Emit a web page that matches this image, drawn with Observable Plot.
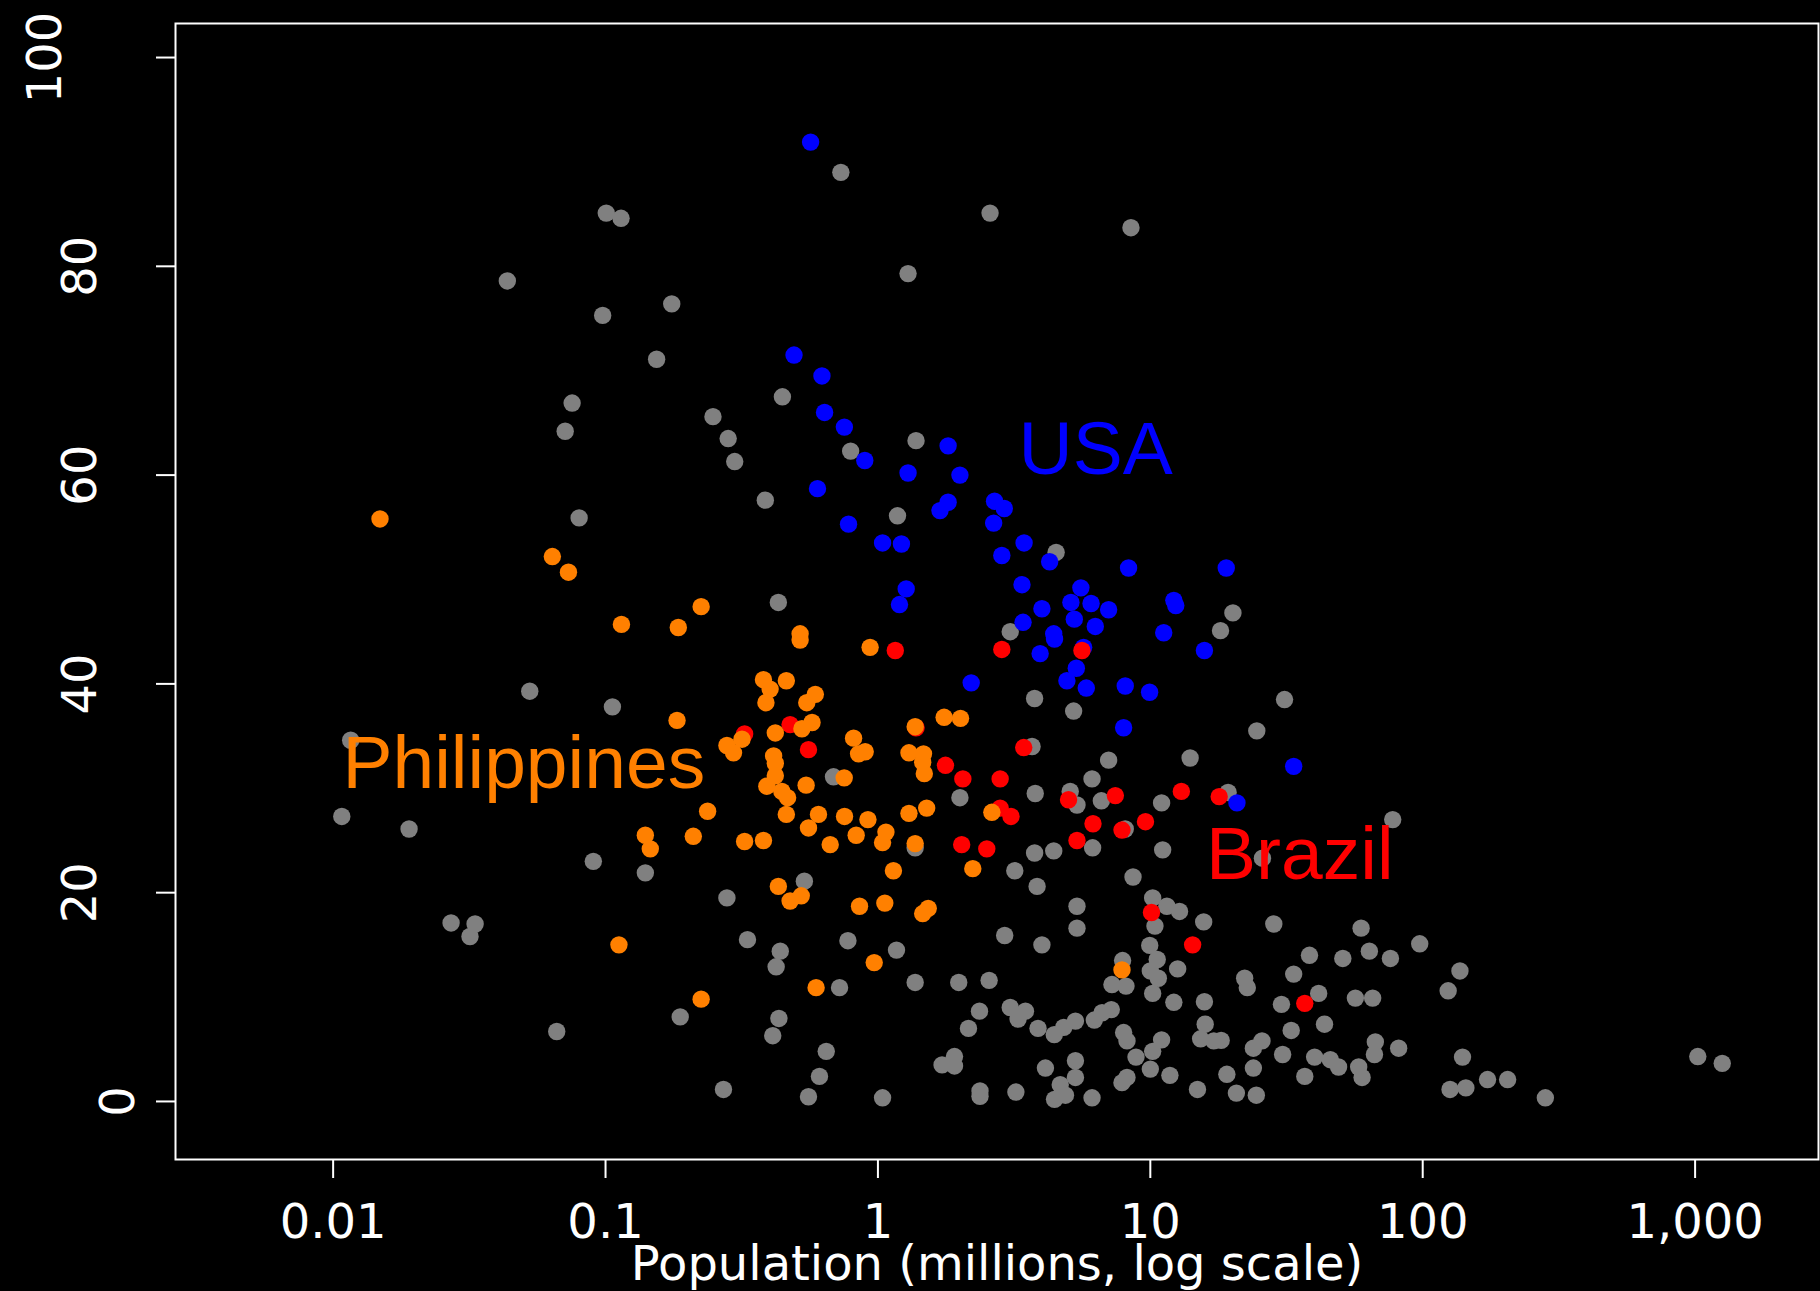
<!DOCTYPE html>
<html>
<head>
<meta charset="utf-8">
<script src="https://cdn.jsdelivr.net/npm/d3@7"></script>
<script src="https://cdn.jsdelivr.net/npm/@observablehq/plot@0.6"></script>
<style>
  html, body { margin: 0; padding: 0; background: #000; }
  #chart svg { display: block; }
</style>
</head>
<body>
<div id="chart"></div>
<script>
// Tick values
const xTicks = [0.01, 0.1, 1, 10, 100, 1000];
const yTicks = [0, 20, 40, 60, 80, 100];

// Groups and colours
const groups = ["other", "USA", "Brazil", "Philippines"];
const groupColors = ["#808080", "#0000ff", "#ff0000", "#ff8000"];

// [population (millions), value]
const otherPoints = [
  [0.731,89.0],[2.58,85.1],[8.49,83.7],[1.29,79.3],[0.1006,85.1],[0.114,84.6],[0.0436,78.6],[0.0976,75.3],
  [0.175,76.4],[0.154,71.1],[0.0754,66.9],[0.0711,64.2],[0.248,65.6],[0.282,63.5],[0.298,61.3],[0.446,67.5],
  [0.794,62.3],[1.38,63.3],[0.386,57.6],[0.080,55.9],[1.18,56.1],[0.431,47.8],[0.0527,39.3],[0.106,37.8],
  [0.0116,34.6],[0.01076,27.3],[0.019,26.1],[4.51,52.6],[20.1,46.8],[3.06,45.0],[18.1,45.1],[3.76,38.6],
  [5.23,37.4],[31.1,38.5],[24.6,35.5],[0.687,31.1],[3.68,34.0],[3.78,29.5],[2.0,29.1],[7.03,32.7],
  [14.0,32.9],[6.11,30.9],[5.08,29.7],[5.38,28.4],[6.61,28.8],[11.0,28.6],[19.3,29.6],[8.09,26.1],
  [77.6,27.0],[1.37,24.3],[0.140,21.9],[3.76,23.8],[4.42,24.0],[3.18,22.1],[3.84,20.6],[0.537,21.1],
  [0.279,19.5],[0.332,15.5],[0.438,14.4],[0.776,15.4],[1.17,14.5],[2.92,15.9],[4.00,15.0],[6.14,24.3],
  [11.1,24.1],[25.8,23.3],[8.64,21.5],[10.2,19.5],[11.5,18.7],[12.8,18.2],[10.4,16.8],[15.7,17.2],
  [28.4,17.0],[5.38,18.7],[5.38,16.6],[59.4,16.6],[97.5,15.1],[9.95,14.95],[38.4,14.0],[50.9,13.7],
  [63.7,14.4],[76.1,13.7],[7.91,13.5],[10.6,13.6],[10.0,12.5],[10.7,11.8],[12.6,12.7],[22.2,11.8],
  [22.7,10.9],[33.6,12.2],[41.5,10.35],[30.3,9.3],[56.6,9.9],[65.5,9.9],[124,10.6],[137,12.5],
  [1.98,11.4],[2.56,11.6],[7.23,11.2],[8.14,11.05],[10.2,10.35],[12.2,9.5],[15.8,9.55],[2.36,8.65],
  [2.15,7.0],[3.06,9.0],[3.48,8.65],[3.27,7.9],[3.87,7.0],[4.44,6.4],[4.81,7.1],[5.31,7.7],
  [6.23,7.8],[6.65,8.5],[7.19,8.8],[7.98,6.6],[8.21,5.8],[11.0,5.9],[10.2,4.8],[8.86,4.25],
  [15.9,7.4],[15.3,6.0],[17.1,5.8],[18.2,5.85],[32.9,6.8],[43.6,7.4],[25.7,5.8],[23.9,5.1],
  [30.6,4.5],[40.1,4.25],[45.8,4.0],[49.1,3.3],[58.2,3.3],[59.9,2.3],[67.0,5.7],[66.5,4.5],
  [81.6,5.1],[140,4.25],[126,1.15],[144,1.3],[1.91,4.3],[1.91,3.4],[4.12,3.2],[5.31,3.9],
  [5.31,2.3],[4.67,1.6],[4.88,0.6],[4.45,0.2],[6.11,0.35],[2.37,1.0],[2.37,0.5],[3.21,0.9],
  [8.21,2.3],[7.87,1.8],[10.0,3.1],[11.8,2.5],[14.9,1.15],[19.1,2.6],[20.7,0.8],[24.5,0.6],
  [23.9,3.2],[36.9,2.4],[173,2.1],[205,2.1],[282,0.35],[1023,4.3],[1258,3.65],
  [0.0902,23.0],[0.0271,17.1],[0.0332,17.0],[0.0318,15.8],[0.0662,6.7],[0.188,8.1],[0.271,1.15],
  [0.423,12.9],[0.723,10.9],[1.37,11.4],[0.433,7.95],[0.411,6.3],[0.646,4.8],[0.610,2.4],[0.556,0.45],
  [1.04,0.35],[1.72,3.5]
];

const usaPoints = [
  [0.566,91.9],[0.492,71.5],[0.623,69.5],[0.637,66.0],[0.753,64.6],[0.895,61.4],[1.81,62.8],[1.29,60.2],
  [2.0,60.0],[0.600,58.7],[1.81,57.4],[1.69,56.6],[0.780,55.3],[2.68,57.5],[2.91,56.8],[2.66,55.4],
  [1.04,53.5],[1.22,53.4],[3.44,53.5],[2.85,52.3],[4.27,51.7],[8.32,51.1],[19.0,51.1],[1.27,49.1],
  [1.20,47.6],[3.38,49.5],[5.56,49.2],[5.11,47.8],[6.06,47.7],[7.03,47.1],[12.2,48.0],[12.4,47.5],
  [4.0,47.2],[5.26,46.2],[3.41,45.9],[6.28,45.5],[11.2,44.9],[4.42,44.8],[4.45,44.3],[15.8,43.2],
  [3.94,42.9],[5.69,43.5],[5.35,41.5],[4.94,40.3],[5.82,39.6],[2.20,40.1],[8.09,39.8],[9.94,39.2],
  [7.98,35.8],[33.6,32.1],[20.8,28.6]
];

const brazilPoints = [
  [1.158,43.2],[2.85,43.3],[5.61,43.2],[0.476,36.1],[0.556,33.7],[0.324,35.2],[1.38,35.8],[1.77,32.2],
  [2.05,30.9],[2.81,30.9],[3.43,33.9],[2.81,28.1],[3.08,27.3],[2.03,24.6],[2.51,24.2],[5.01,28.9],
  [7.44,29.3],[13.0,29.7],[17.9,29.2],[6.16,26.6],[9.6,26.8],[7.87,26.0],[5.38,25.0],[10.1,18.1],
  [14.3,15.0],[36.9,9.4]
];

const philippinesPoints = [
  [0.01486,55.8],[0.0638,52.2],[0.0731,50.7],[0.2244,47.4],[0.1144,45.7],[0.185,45.4],[0.518,44.8],[0.518,44.2],
  [0.183,36.5],[0.380,40.4],[0.402,39.5],[0.388,38.2],[0.461,40.3],[0.548,38.2],[0.589,39.0],[0.526,35.7],
  [0.573,36.3],[0.317,34.7],[0.279,34.1],[0.295,33.4],[0.420,35.3],[0.414,33.1],[0.420,32.4],[0.420,31.2],
  [0.391,30.2],[0.444,29.7],[0.466,29.1],[0.545,30.3],[0.237,27.8],[0.461,27.5],[0.936,43.5],[0.814,34.8],
  [0.849,33.3],[0.898,33.5],[0.752,31.0],[1.37,35.9],[1.75,36.8],[2.01,36.7],[1.30,33.4],[1.47,33.3],
  [1.46,32.5],[1.48,31.4],[2.62,27.7],[0.605,27.5],[0.754,27.3],[0.919,27.0],[1.30,27.6],[1.51,28.1],
  [0.556,26.2],[0.832,25.5],[1.07,25.8],[1.04,24.8],[0.668,24.6],[1.37,24.7],[0.140,25.5],[0.146,24.2],
  [0.210,25.4],[0.324,24.9],[0.380,25.0],[2.23,22.3],[1.14,22.1],[0.431,20.6],[0.476,19.2],[0.523,19.7],
  [0.856,18.7],[1.06,19.0],[1.46,18.0],[1.53,18.5],[0.969,13.3],[0.112,15.0],[0.2244,9.8],[0.593,10.9],
  [7.87,12.6]
];

// Annotation labels
const labelNames = ["USA", "Philippines", "Brazil"];
const labelPop = [6.3, 0.0501, 35.4];
const labelVal = [62.4, 32.3, 23.6];
const labelColors = ["#0000ff", "#ff8000", "#ff0000"];

const rows = [];
[otherPoints, usaPoints, brazilPoints, philippinesPoints].forEach((pts, i) =>
  pts.forEach(([pop, val]) => rows.push({group: groups[i], pop, val}))
);
const labels = labelNames.map((name, i) => ({name, pop: labelPop[i], val: labelVal[i], color: labelColors[i]}));

// The reference's rotated y labels sit further left the longer they are
const yPadByDigits = {1: 23, 2: 61, 3: 96};
const yAxes = [1, 2, 3].map(n => Plot.axisY({
  ticks: yTicks.filter(t => String(t).length === n),
  tickSize: 19, tickPadding: yPadByDigits[n], tickRotate: -90,
  fontSize: 48, strokeWidth: 2, label: null
}));

const chart = Plot.plot({
  width: 1820,
  height: 1291,
  marginLeft: 175,
  marginRight: 2,
  marginTop: 23,
  marginBottom: 132,
  style: {background: "#000", color: "#fff", fontFamily: "'DejaVu Sans', Verdana, sans-serif"},
  x: {type: "log", domain: [0.002638, 2838]},
  y: {domain: [-5.56, 103.26]},
  color: {domain: groups, range: groupColors},
  marks: [
    Plot.dot(rows, {x: "pop", y: "val", r: 8.7, fill: "group"}),
    Plot.text(labels, {
      x: "pop", y: "val", text: "name", fill: "color",
      fontSize: 75, fontFamily: "'Liberation Sans', Arial, sans-serif",
      textAnchor: "middle", lineAnchor: "middle"
    }),
    Plot.frame({stroke: "#fff", strokeWidth: 2}),
    Plot.axisX({
      ticks: xTicks, tickFormat: d3.format(","), tickSize: 19, tickPadding: 25,
      fontSize: 48, strokeWidth: 2,
      label: "Population (millions, log scale)", labelAnchor: "center", labelArrow: "none", labelOffset: 120
    }),
    ...yAxes
  ]
});
document.getElementById("chart").appendChild(chart);
</script>
</body>
</html>
